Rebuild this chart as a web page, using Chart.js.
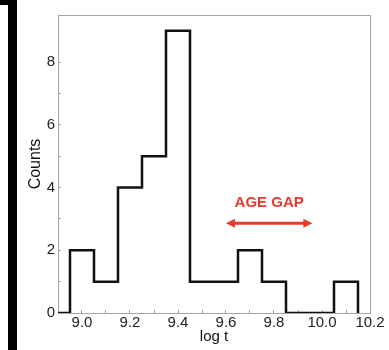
<!DOCTYPE html>
<html>
<head>
<meta charset="utf-8">
<script src="https://cdn.jsdelivr.net/npm/chart.js@4"></script>
<style>
  html, body { margin: 0; padding: 0; background: #fff; }
  #wrap { width: 389px; height: 350px; position: relative; }
</style>
</head>
<body>
<div id="wrap"><canvas id="hist"></canvas></div>
<script>
// histogram of log ages: bin edges and counts per bin
const binEdges = [8.95, 9.05, 9.15, 9.25, 9.35, 9.45, 9.55, 9.65, 9.75, 9.85, 9.95, 10.05, 10.15];
const counts = [2, 1, 4, 5, 9, 1, 1, 2, 1, 0, 0, 1];

const xRange = [8.9, 10.2];
const yRange = [0, 9.5];

// "AGE GAP" marker, in data units
const gapLabel = "AGE GAP";
const gapArrowX = [9.6, 9.96];
const gapArrowY = 2.86;
const gapLabelX = 9.78;
const gapLabelY = 3.52;

const AXIS_GRAY = "#a6a6a6";
const GAP_RED = "#e63b2b";

// step outline: starts on the axis, each point carries its bin count to the right
const outline = [{ x: xRange[0], y: 0 }];
counts.forEach((c, i) => outline.push({ x: binEdges[i], y: c }));
outline.push({ x: binEdges[binEdges.length - 1], y: 0 });

Chart.defaults.font.family = '"Liberation Sans", Arial, sans-serif';
Chart.defaults.color = "#222";

const framePlugin = {
  id: "frame",
  beforeDraw(chart) {
    const ctx = chart.ctx;
    ctx.save();
    // dark strip on the left edge
    ctx.fillStyle = "#000";
    ctx.fillRect(8, 0, 9, chart.height);
    ctx.fillRect(0, 0, 17, 5);
    ctx.restore();
  },
  afterDraw(chart) {
    const { left, right, top } = chart.chartArea;
    const ctx = chart.ctx;
    ctx.save();
    ctx.strokeStyle = AXIS_GRAY;
    ctx.lineWidth = 1;
    ctx.beginPath();
    ctx.moveTo(left, top + 0.5);
    ctx.lineTo(right + 0.5, top + 0.5);
    ctx.moveTo(right + 0.5, top);
    ctx.lineTo(right + 0.5, chart.chartArea.bottom);
    ctx.stroke();
    ctx.restore();
  },
};

const gapPlugin = {
  id: "ageGap",
  afterDatasetsDraw(chart) {
    const xs = chart.scales.x, ys = chart.scales.y;
    const ctx = chart.ctx;
    const x1 = xs.getPixelForValue(gapArrowX[0]);
    const x2 = xs.getPixelForValue(gapArrowX[1]);
    const y = ys.getPixelForValue(gapArrowY);
    const head = 9, half = 4.5;
    ctx.save();
    ctx.strokeStyle = GAP_RED;
    ctx.fillStyle = GAP_RED;
    ctx.lineWidth = 3;
    ctx.beginPath();
    ctx.moveTo(x1 + head - 1, y);
    ctx.lineTo(x2 - head + 1, y);
    ctx.stroke();
    ctx.beginPath();
    ctx.moveTo(x1, y);
    ctx.lineTo(x1 + head, y - half);
    ctx.lineTo(x1 + head, y + half);
    ctx.closePath();
    ctx.fill();
    ctx.beginPath();
    ctx.moveTo(x2, y);
    ctx.lineTo(x2 - head, y - half);
    ctx.lineTo(x2 - head, y + half);
    ctx.closePath();
    ctx.fill();

    ctx.font = 'bold 15px "Liberation Sans", Arial, sans-serif';
    ctx.textAlign = "center";
    ctx.textBaseline = "middle";
    ctx.fillText(gapLabel, xs.getPixelForValue(gapLabelX), ys.getPixelForValue(gapLabelY));
    ctx.restore();
  },
};

new Chart(document.getElementById("hist"), {
  type: "line",
  data: {
    datasets: [{
      data: outline,
      stepped: true,
      borderColor: "#111",
      borderWidth: 2.5,
      pointRadius: 0,
      fill: false,
    }],
  },
  options: {
    responsive: true,
    maintainAspectRatio: false,
    animation: false,
    layout: { padding: { top: 9, right: 19, left: 0, bottom: 0 } },
    plugins: { legend: { display: false }, tooltip: { enabled: false } },
    scales: {
      x: {
        type: "linear",
        min: xRange[0],
        max: xRange[1],
        afterFit: s => { s.height = 37; },
        border: { color: AXIS_GRAY, width: 1 },
        grid: { drawOnChartArea: false, color: AXIS_GRAY, tickLength: -3 },
        ticks: {
          stepSize: 0.1,
          autoSkip: false,
          maxRotation: 0,
          padding: 4,
          font: { size: 15 },
          callback: v => {
            const k = Math.round(v * 10);
            return k % 2 === 0 ? (k / 10).toFixed(1) : "";
          },
        },
        title: { display: true, text: "log t", color: "#111", font: { size: 15 }, padding: { top: 0, bottom: 4 } },
      },
      y: {
        min: yRange[0],
        max: yRange[1],
        afterFit: s => { s.width = 58; },
        afterBuildTicks: s => { s.ticks = s.ticks.filter(t => Number.isInteger(t.value)); },
        border: { color: AXIS_GRAY, width: 1 },
        grid: { drawOnChartArea: false, color: AXIS_GRAY, tickLength: -3 },
        ticks: {
          stepSize: 1,
          autoSkip: false,
          padding: 6,
          font: { size: 15 },
          callback: v => (v % 2 === 0 ? String(v) : ""),
        },
        title: { display: true, text: "Counts", color: "#111", font: { size: 16 }, padding: { top: 26, bottom: 0 } },
      },
    },
  },
  plugins: [framePlugin, gapPlugin],
});
</script>
</body>
</html>
